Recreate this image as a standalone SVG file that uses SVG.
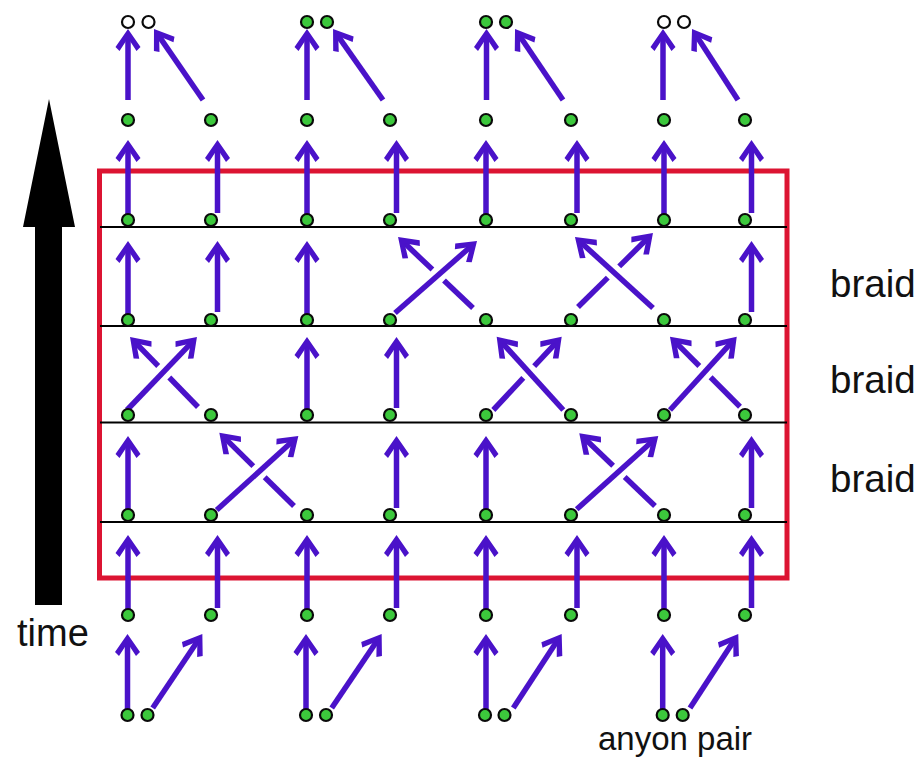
<svg xmlns="http://www.w3.org/2000/svg" width="922" height="762" viewBox="0 0 922 762">
<style>
.a{stroke:#4a12c9;stroke-width:5.5;fill:none;marker-end:url(#ah)}
.s{stroke:#4a12c9;stroke-width:5.5;fill:none}
.g{fill:#3cc83c;stroke:#0a0a0a;stroke-width:2.2}
.w{fill:#ffffff;stroke:#0a0a0a;stroke-width:2.2}
.sep{stroke:#000;stroke-width:2.2}
.lbl{font-family:"Liberation Sans",Arial,sans-serif;fill:#111}
</style>
<defs>
<marker id="ah" markerUnits="userSpaceOnUse" orient="auto" refX="-6" refY="0" markerWidth="30" markerHeight="30" overflow="visible">
<path d="M0,0 L-18,-12.5 L-22,-8.5 L-9,0 L-22,8.5 L-18,12.5 Z" fill="#4a12c9"/>
</marker>
</defs>
<rect width="922" height="762" fill="#fff"/>

<g id="time-axis">
<polygon points="49,99 75,227 62,227 62,605 35,605 35,227 23,227" fill="#000"/>
<text class="lbl" x="17" y="646" font-size="38">time</text>
</g>

<g id="braid-box">
<rect x="99.5" y="171" width="687.5" height="407" fill="none" stroke="#dc1432" stroke-width="5"/>
<line class="sep" x1="100" y1="227" x2="787" y2="227"/>
<line class="sep" x1="100" y1="326" x2="787" y2="326"/>
<line class="sep" x1="100" y1="422.5" x2="787" y2="422.5"/>
<line class="sep" x1="100" y1="522" x2="787" y2="522"/>
</g>

<g id="labels">
<text class="lbl" x="830" y="297" font-size="38.5">braid</text>
<text class="lbl" x="830" y="393" font-size="38.5">braid</text>
<text class="lbl" x="830" y="492" font-size="38.5">braid</text>
<text class="lbl" x="598" y="750" font-size="33">anyon pair</text>
</g>

<g id="connectors">
<!-- top: fusion -->
<line class="a" x1="128" y1="100" x2="128" y2="35"/>
<line class="a" x1="203" y1="100" x2="157.4" y2="33.9"/>
<line class="a" x1="307" y1="100" x2="307" y2="35"/>
<line class="a" x1="383" y1="100" x2="336.5" y2="33.9"/>
<line class="a" x1="486.5" y1="100" x2="486.5" y2="35"/>
<line class="a" x1="563" y1="100" x2="518.4" y2="34"/>
<line class="a" x1="663" y1="100" x2="663" y2="35"/>
<line class="a" x1="738" y1="100" x2="695.3" y2="34"/>
<!-- 220 -> 120 -->
<line class="a" x1="128" y1="220" x2="128" y2="146"/>
<line class="a" x1="217.5" y1="213" x2="217.5" y2="146"/>
<line class="a" x1="307" y1="220" x2="307" y2="146"/>
<line class="a" x1="396.5" y1="213" x2="396.5" y2="146"/>
<line class="a" x1="486" y1="220" x2="486" y2="146"/>
<line class="a" x1="577" y1="213" x2="577" y2="146"/>
<line class="a" x1="664" y1="220" x2="664" y2="146"/>
<line class="a" x1="751.5" y1="213" x2="751.5" y2="146"/>
<!-- 320 -> 220 -->
<line class="a" x1="128" y1="320" x2="128" y2="247"/>
<line class="a" x1="217.5" y1="312" x2="217.5" y2="247"/>
<line class="a" x1="307" y1="320" x2="307" y2="247"/>
<line class="a" x1="751.5" y1="312" x2="751.5" y2="247"/>
<line class="s" x1="473" y1="308" x2="444" y2="280.5"/>
<line class="a" x1="432.4" y1="269.6" x2="402.4" y2="241.1"/>
<line class="a" x1="395" y1="313" x2="472.5" y2="245"/>
<line class="s" x1="578" y1="307" x2="607.8" y2="277.6"/>
<line class="a" x1="619.2" y1="266.4" x2="648.7" y2="237.2"/>
<line class="a" x1="653" y1="308" x2="579.4" y2="241"/>
<!-- 415 -> 320 -->
<line class="a" x1="307" y1="415" x2="307" y2="343"/>
<line class="a" x1="396.5" y1="408" x2="396.5" y2="343"/>
<line class="s" x1="198" y1="407" x2="169.3" y2="377.5"/>
<line class="a" x1="158.2" y1="366" x2="134.2" y2="341.3"/>
<line class="a" x1="127" y1="410" x2="192.8" y2="341.3"/>
<line class="s" x1="493.3" y1="410" x2="523.3" y2="377.9"/>
<line class="a" x1="534.2" y1="366.1" x2="557.6" y2="341.1"/>
<line class="a" x1="563.3" y1="410" x2="500.7" y2="341.1"/>
<line class="s" x1="740" y1="406.7" x2="710.6" y2="377.3"/>
<line class="a" x1="699.3" y1="366" x2="674.2" y2="340.9"/>
<line class="a" x1="670" y1="410" x2="732.7" y2="341.1"/>
<!-- 515 -> 415 -->
<line class="a" x1="128" y1="515" x2="128" y2="442"/>
<line class="a" x1="396.5" y1="508" x2="396.5" y2="442"/>
<line class="a" x1="486" y1="515" x2="486" y2="442"/>
<line class="a" x1="751.5" y1="508" x2="751.5" y2="442"/>
<line class="s" x1="294" y1="506" x2="264.7" y2="477.3"/>
<line class="a" x1="253.3" y1="466.1" x2="223.6" y2="436.9"/>
<line class="a" x1="216.7" y1="510" x2="293.9" y2="440"/>
<line class="s" x1="655" y1="506" x2="624.7" y2="476.9"/>
<line class="a" x1="613.1" y1="465.8" x2="583.6" y2="437.5"/>
<line class="a" x1="576.7" y1="509.3" x2="653.8" y2="440"/>
<!-- 615 -> 515 -->
<line class="a" x1="128" y1="615" x2="128" y2="541"/>
<line class="a" x1="217.5" y1="608" x2="217.5" y2="541"/>
<line class="a" x1="307" y1="615" x2="307" y2="541"/>
<line class="a" x1="396.5" y1="608" x2="396.5" y2="541"/>
<line class="a" x1="486" y1="615" x2="486" y2="541"/>
<line class="a" x1="577" y1="608" x2="577" y2="541"/>
<line class="a" x1="664" y1="615" x2="664" y2="541"/>
<line class="a" x1="751.5" y1="608" x2="751.5" y2="541"/>
<!-- bottom: pair creation -->
<line class="a" x1="127.5" y1="715" x2="127.5" y2="640"/>
<line class="a" x1="152.7" y1="708" x2="199" y2="639"/>
<line class="a" x1="306" y1="715" x2="306" y2="640"/>
<line class="a" x1="331.7" y1="708" x2="378.3" y2="639"/>
<line class="a" x1="486" y1="715" x2="486" y2="640"/>
<line class="a" x1="513.3" y1="708" x2="558.4" y2="639"/>
<line class="a" x1="662.7" y1="715" x2="662.7" y2="640"/>
<line class="a" x1="690" y1="708" x2="735" y2="639"/>
</g>

<g id="fused-pairs">
<g id="f1"><circle class="w" cx="128" cy="22" r="6"/><circle class="w" cx="148.5" cy="22" r="6"/></g>
<g id="f2"><circle class="g" cx="307" cy="22" r="6"/><circle class="g" cx="327" cy="22" r="6"/></g>
<g id="f3"><circle class="g" cx="486" cy="22" r="6"/><circle class="g" cx="506" cy="22" r="6"/></g>
<g id="f4"><circle class="w" cx="664" cy="22" r="6"/><circle class="w" cx="684" cy="22" r="6"/></g>
</g>

<g id="row-120">
<circle class="g" cx="128" cy="120" r="6"/><circle class="g" cx="211" cy="120" r="6"/><circle class="g" cx="307" cy="120" r="6"/><circle class="g" cx="390" cy="120" r="6"/><circle class="g" cx="486" cy="120" r="6"/><circle class="g" cx="571" cy="120" r="6"/><circle class="g" cx="664" cy="120" r="6"/><circle class="g" cx="745" cy="120" r="6"/>
</g>
<g id="row-220">
<circle class="g" cx="128" cy="220" r="6"/><circle class="g" cx="211" cy="220" r="6"/><circle class="g" cx="307" cy="220" r="6"/><circle class="g" cx="390" cy="220" r="6"/><circle class="g" cx="486" cy="220" r="6"/><circle class="g" cx="571" cy="220" r="6"/><circle class="g" cx="664" cy="220" r="6"/><circle class="g" cx="745" cy="220" r="6"/>
</g>
<g id="row-320">
<circle class="g" cx="128" cy="320" r="6"/><circle class="g" cx="211" cy="320" r="6"/><circle class="g" cx="307" cy="320" r="6"/><circle class="g" cx="390" cy="320" r="6"/><circle class="g" cx="486" cy="320" r="6"/><circle class="g" cx="571" cy="320" r="6"/><circle class="g" cx="664" cy="320" r="6"/><circle class="g" cx="745" cy="320" r="6"/>
</g>
<g id="row-415">
<circle class="g" cx="128" cy="415" r="6"/><circle class="g" cx="211" cy="415" r="6"/><circle class="g" cx="307" cy="415" r="6"/><circle class="g" cx="390" cy="415" r="6"/><circle class="g" cx="486" cy="415" r="6"/><circle class="g" cx="571" cy="415" r="6"/><circle class="g" cx="664" cy="415" r="6"/><circle class="g" cx="745" cy="415" r="6"/>
</g>
<g id="row-515">
<circle class="g" cx="128" cy="515" r="6"/><circle class="g" cx="211" cy="515" r="6"/><circle class="g" cx="307" cy="515" r="6"/><circle class="g" cx="390" cy="515" r="6"/><circle class="g" cx="486" cy="515" r="6"/><circle class="g" cx="571" cy="515" r="6"/><circle class="g" cx="664" cy="515" r="6"/><circle class="g" cx="745" cy="515" r="6"/>
</g>
<g id="row-615">
<circle class="g" cx="128" cy="615" r="6"/><circle class="g" cx="211" cy="615" r="6"/><circle class="g" cx="307" cy="615" r="6"/><circle class="g" cx="390" cy="615" r="6"/><circle class="g" cx="486" cy="615" r="6"/><circle class="g" cx="571" cy="615" r="6"/><circle class="g" cx="664" cy="615" r="6"/><circle class="g" cx="745" cy="615" r="6"/>
</g>

<g id="created-pairs">
<g id="p1"><circle class="g" cx="127.5" cy="715" r="6"/><circle class="g" cx="147.5" cy="715" r="6"/></g>
<g id="p2"><circle class="g" cx="306" cy="715" r="6"/><circle class="g" cx="326" cy="715" r="6"/></g>
<g id="p3"><circle class="g" cx="485" cy="715" r="6"/><circle class="g" cx="504.5" cy="715" r="6"/></g>
<g id="p4"><circle class="g" cx="662.7" cy="715" r="6"/><circle class="g" cx="682.7" cy="715" r="6"/></g>
</g>
</svg>
